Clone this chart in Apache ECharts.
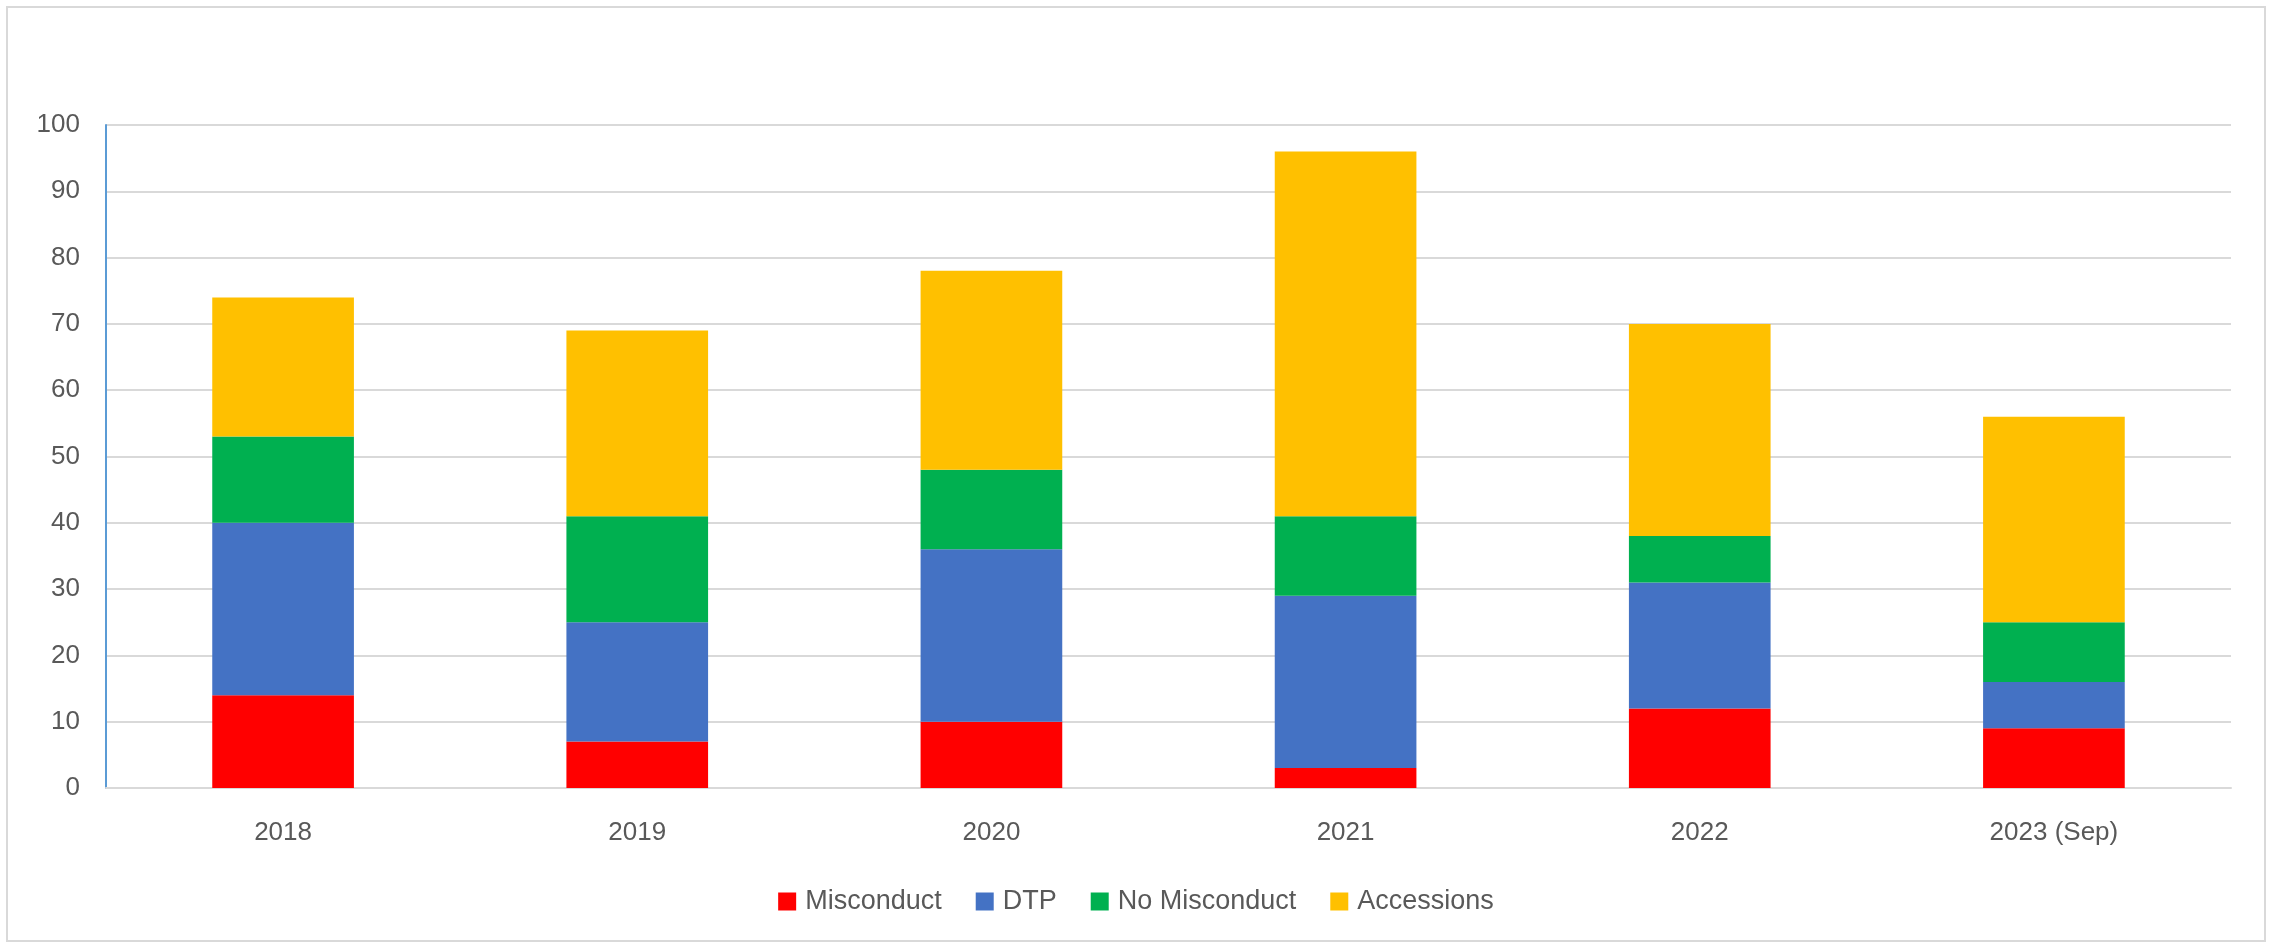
<!DOCTYPE html>
<html><head><meta charset="utf-8">
<script src="https://cdn.jsdelivr.net/npm/echarts@6/dist/echarts.min.js"></script>
<style>html,body{margin:0;padding:0;background:#fff}#c{width:2272px;height:944px}</style>
</head><body><div id="c"></div>
<script>
const categories = ['2018', '2019', '2020', '2021', '2022', '2023 (Sep)'];
const misconduct = [14, 7, 10, 3, 12, 9];
const dtp = [26, 18, 26, 26, 19, 7];
const noMisconduct = [13, 16, 12, 12, 7, 9];
const accessions = [21, 28, 30, 55, 32, 31];
const seriesNames = ['Misconduct', 'DTP', 'No Misconduct', 'Accessions'];
const seriesColors = ['#FF0000', '#4472C4', '#00B050', '#FFC000'];
const seriesData = [misconduct, dtp, noMisconduct, accessions];

const font = '"Liberation Sans", sans-serif';
const chart = echarts.init(document.getElementById('c'));
chart.setOption({
  animation: false,
  backgroundColor: '#fff',
  graphic: [{type: 'rect', shape: {x: 7, y: 7, width: 2258, height: 934},
    style: {fill: 'none', stroke: '#D9D9D9', lineWidth: 2}, silent: true}],
  grid: {left: 106, right: 41, top: 125, bottom: 156},
  legend: {
    bottom: 24, left: 'center', itemWidth: 18, itemHeight: 18, itemGap: 34,
    icon: 'rect',
    textStyle: {color: '#595959', fontSize: 27, fontFamily: font, padding: [0, 0, 0, 4]},
    data: seriesNames
  },
  xAxis: {
    type: 'category', data: categories,
    axisLine: {show: true, lineStyle: {color: '#D9D9D9', width: 2}},
    axisTick: {show: false},
    axisLabel: {color: '#595959', fontSize: 26, fontFamily: font, margin: 32}
  },
  yAxis: {
    type: 'value', min: 0, max: 100, interval: 10,
    axisLine: {show: true, lineStyle: {color: '#5B9BD5', width: 2}},
    axisTick: {show: false},
    splitLine: {lineStyle: {color: '#D9D9D9', width: 2}},
    axisLabel: {color: '#595959', fontSize: 26, fontFamily: font, margin: 26}
  },
  series: seriesNames.map((n, i) => ({
    name: n, type: 'bar', stack: 'total', data: seriesData[i],
    barWidth: '40%',
    itemStyle: {color: seriesColors[i]}
  }))
});
</script></body></html>
